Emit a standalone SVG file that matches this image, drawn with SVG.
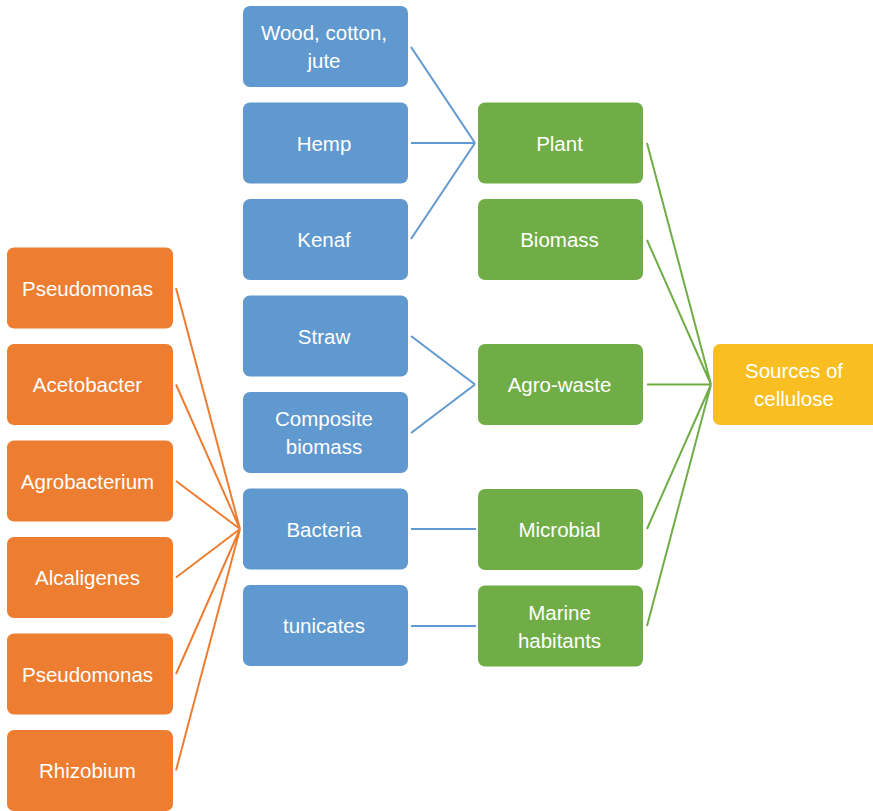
<svg xmlns="http://www.w3.org/2000/svg" width="873" height="811" viewBox="0 0 873 811">
<style>
.b{fill:#5F99CF}.g{fill:#70AD47}.o{fill:#ED7D31}.y{fill:#F9BF22}
text{font-family:"Liberation Sans",Arial,sans-serif;font-size:20.5px;fill:#fff;text-anchor:middle}
.lb{stroke:#5F99CF;stroke-width:2;fill:none}.lg{stroke:#70AD47;stroke-width:2;fill:none}.lo{stroke:#ED7D31;stroke-width:2;fill:none}
</style>
<rect width="873" height="811" fill="#fff"/>
<g id="connectors">
<path class="lb" d="M411 47L475 143M411 143H475M411 239L475 143M411 336L475 384.5M411 433L475 384.5M411 529H476M411 626H476"/>
<path class="lg" d="M647 143L711 384.5M647 240L711 384.5M647 384.5H711M647 529L711 384.5M647 626L711 384.5"/>
<path class="lo" d="M176 288L240 529M176 384.5L240 529M176 481L240 529M176 577.5L240 529M176 674L240 529M176 770.5L240 529"/>
</g>
<g id="wood"><rect class="b" x="243" y="6" width="165" height="81" rx="7"/><text x="324" y="40">Wood, cotton,</text><text x="324" y="68">jute</text></g>
<g id="hemp"><rect class="b" x="243" y="102.5" width="165" height="81" rx="7"/><text x="324" y="150.5">Hemp</text></g>
<g id="kenaf"><rect class="b" x="243" y="199" width="165" height="81" rx="7"/><text x="324" y="247">Kenaf</text></g>
<g id="straw"><rect class="b" x="243" y="295.5" width="165" height="81" rx="7"/><text x="324" y="343.5">Straw</text></g>
<g id="composite"><rect class="b" x="243" y="392" width="165" height="81" rx="7"/><text x="324" y="426">Composite</text><text x="324" y="454">biomass</text></g>
<g id="bacteria"><rect class="b" x="243" y="488.5" width="165" height="81" rx="7"/><text x="324" y="536.5">Bacteria</text></g>
<g id="tunicates"><rect class="b" x="243" y="585" width="165" height="81" rx="7"/><text x="324" y="633">tunicates</text></g>
<g id="plant"><rect class="g" x="478" y="102.5" width="165" height="81" rx="7"/><text x="559.5" y="150.5">Plant</text></g>
<g id="biomass"><rect class="g" x="478" y="199" width="165" height="81" rx="7"/><text x="559.5" y="247">Biomass</text></g>
<g id="agro"><rect class="g" x="478" y="344" width="165" height="81" rx="7"/><text x="559.5" y="392">Agro-waste</text></g>
<g id="microbial"><rect class="g" x="478" y="489" width="165" height="81" rx="7"/><text x="559.5" y="537">Microbial</text></g>
<g id="marine"><rect class="g" x="478" y="585.5" width="165" height="81" rx="7"/><text x="559.5" y="619.5">Marine</text><text x="559.5" y="647.5">habitants</text></g>
<g id="sources"><rect class="y" x="713" y="344" width="170" height="81" rx="7"/><text x="794" y="378">Sources of</text><text x="794" y="406">cellulose</text></g>
<g id="o1"><rect class="o" x="7" y="247.5" width="166" height="81" rx="7"/><text x="87.5" y="295.5">Pseudomonas</text></g>
<g id="o2"><rect class="o" x="7" y="344" width="166" height="81" rx="7"/><text x="87.5" y="392">Acetobacter</text></g>
<g id="o3"><rect class="o" x="7" y="440.5" width="166" height="81" rx="7"/><text x="87.5" y="488.5">Agrobacterium</text></g>
<g id="o4"><rect class="o" x="7" y="537" width="166" height="81" rx="7"/><text x="87.5" y="585">Alcaligenes</text></g>
<g id="o5"><rect class="o" x="7" y="633.5" width="166" height="81" rx="7"/><text x="87.5" y="681.5">Pseudomonas</text></g>
<g id="o6"><rect class="o" x="7" y="730" width="166" height="81" rx="7"/><text x="87.5" y="778">Rhizobium</text></g>
</svg>
